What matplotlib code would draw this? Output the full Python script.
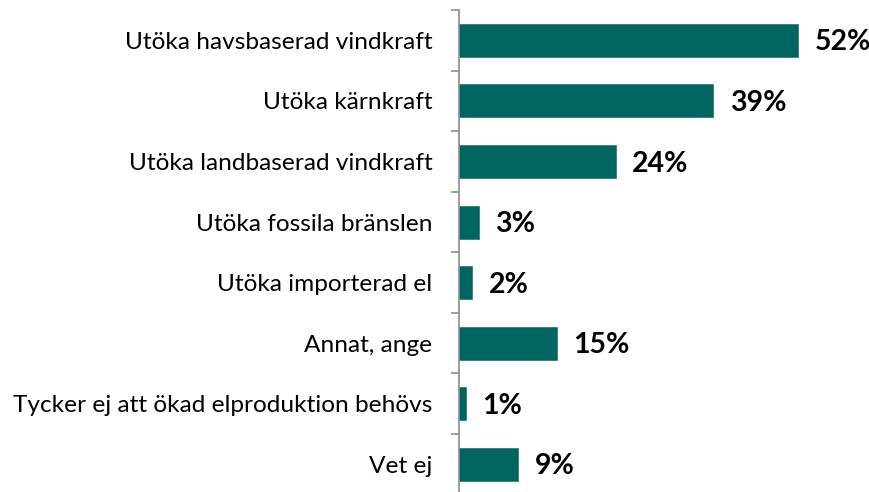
import matplotlib
matplotlib.use("Agg")
import matplotlib.pyplot as plt
import numpy as np

categories = [
    "Utöka havsbaserad vindkraft",
    "Utöka kärnkraft",
    "Utöka landbaserad vindkraft",
    "Utöka fossila bränslen",
    "Utöka importerad el",
    "Annat, ange",
    "Tycker ej att ökad elproduktion behövs",
    "Vet ej",
]
values = [52, 39, 24, 3, 2, 15, 1, 9]
value_labels = ["52%", "39%", "24%", "3%", "2%", "15%", "1%", "9%"]

plt.rcParams['font.family'] = ['Lato', 'DejaVu Sans']

fig = plt.figure(figsize=(8.7, 4.92), dpi=100)
top_px, bot_px = 10, 494.6
ax = fig.add_axes([459/870, (492 - bot_px)/492, 1 - 459/870, (bot_px - top_px)/492])

y = np.arange(len(categories))
ax.barh(y, values, height=0.545, color="#006460", edgecolor="#2f7f7a", linewidth=0.6)
ax.set_ylim(len(categories) - 0.5, -0.5)
ax.set_xlim(0, 63)

for yi, v, lab in zip(y, values, value_labels):
    ax.annotate(lab, (v, yi), xytext=(12, -1.5), textcoords="offset points",
                va="center", ha="left", fontsize=20.5, fontweight="bold", color="black")

ax.set_yticks(y)
ax.set_yticklabels(categories, fontsize=17.6)
ax.tick_params(axis="y", which="major", length=0, pad=19)
ax.set_yticks(np.arange(-0.5, len(categories), 1), minor=True)
ax.tick_params(axis="y", which="minor", length=6, width=1.2, color="#8c8c8c")
ax.set_xticks([])
for s in ["top", "right", "bottom"]:
    ax.spines[s].set_visible(False)
ax.spines["left"].set_color("#8c8c8c")
ax.spines["left"].set_linewidth(1.2)

fig.savefig("out.png", dpi=100)
